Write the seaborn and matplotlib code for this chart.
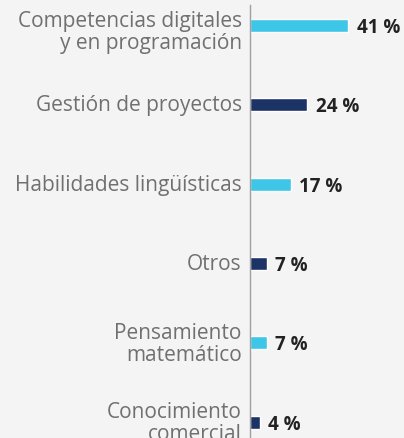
import matplotlib
matplotlib.use("Agg")
import matplotlib.pyplot as plt
import matplotlib.transforms as mtransforms
import seaborn as sns

categories = [
    "Competencias digitales\ny en programación",
    "Gestión de proyectos",
    "Habilidades lingüísticas",
    "Otros",
    "Pensamiento\nmatemático",
    "Conocimiento\ncomercial",
]
values = [41, 24, 17, 7, 7, 4]
colors = ["#3ec6e8", "#1c3366", "#3ec6e8", "#1c3366", "#3ec6e8", "#1c3366"]

sns.set_style("white")
plt.rcParams["font.family"] = ["Open Sans", "DejaVu Sans"]

bg = "#f4f4f4"
fig = plt.figure(figsize=(4.04, 4.38), dpi=100, facecolor=bg)
ax = fig.add_axes([250 / 404, 0, 154 / 404, 433 / 438])
ax.set_facecolor(bg)

sns.barplot(x=values, y=categories, hue=categories, palette=colors,
            legend=False, width=0.165, ax=ax, orient="h", saturation=1)

ax.set_xlim(0, 154 / 2.39)
ax.set_ylim(5.2, -0.26)

for i, v in enumerate(values):
    ax.text(v + 3.6, i + 0.03, f"{v} %", va="center", ha="left",
            fontsize=13.5, fontweight="bold", color="#222222")

ax.set_xticks([])
ax.tick_params(axis="y", length=0, pad=6, labelsize=15, labelcolor="#707070")
# the first label sits a little lower in the original
shifts = [-4, 1.5, 1.5, 1.5, 1.5, 1.5]
for lbl, dy in zip(ax.get_yticklabels(), shifts):
    lbl.set_multialignment("right")
    lbl.set_linespacing(1.08)
    off = mtransforms.ScaledTranslation(0, dy / 100, fig.dpi_scale_trans)
    lbl.set_transform(lbl.get_transform() + off)
ax.set_xlabel("")
ax.set_ylabel("")
for s in ["top", "right", "bottom"]:
    ax.spines[s].set_visible(False)
ax.spines["left"].set_color("#a0a0a0")
ax.spines["left"].set_linewidth(1)

fig.savefig("out.png", dpi=100, facecolor=bg)
